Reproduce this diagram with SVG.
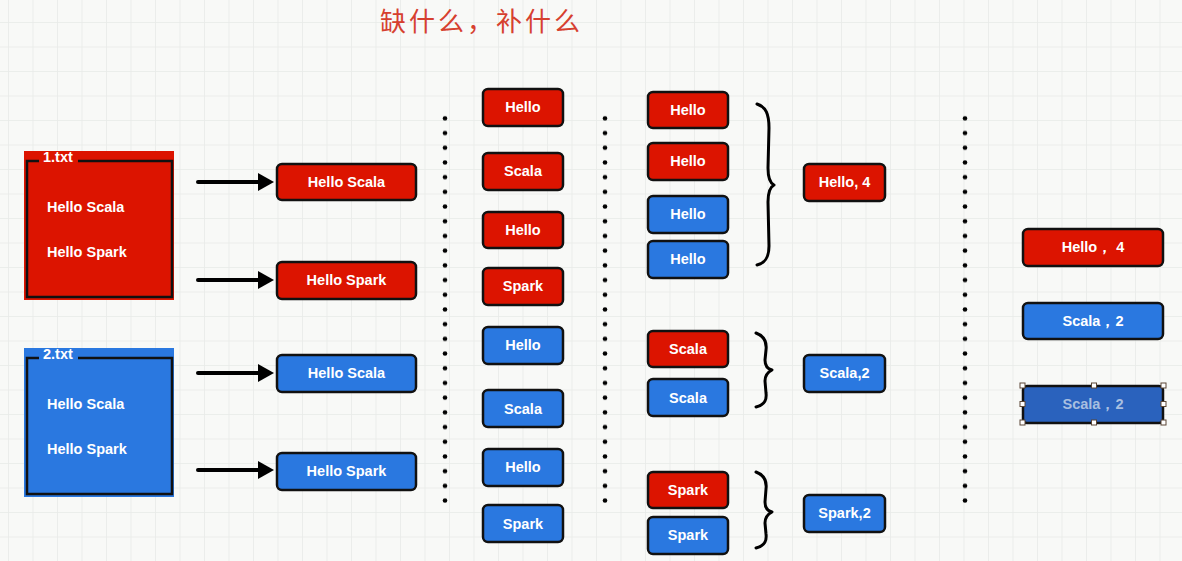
<svg xmlns="http://www.w3.org/2000/svg" width="1182" height="561" viewBox="0 0 1182 561">
<defs>
<pattern id="grid" patternUnits="userSpaceOnUse" x="8" y="22" width="24.5" height="24.5">
<path d="M0,0 H24.5 M0,0 V24.5" fill="none" stroke="#e8eae8" stroke-width="1.6"/>
</pattern>
<pattern id="dots" patternUnits="userSpaceOnUse" x="0" y="111" width="10" height="14.7">
<circle cx="5" cy="7.35" r="2.3" fill="#000"/>
</pattern>
</defs>
<style>
.r{fill:#dc1400;stroke:#111;stroke-width:2.5}
.b{fill:#2a78e0;stroke:#111;stroke-width:2.5}
.t{fill:#fff;font-family:"Liberation Sans",Arial,sans-serif;font-weight:bold;font-size:14.5px;text-anchor:middle;dominant-baseline:central}
.tl{fill:#fff;font-family:"Liberation Sans",Arial,sans-serif;font-weight:bold;font-size:14.5px;dominant-baseline:central}
.br{fill:none;stroke:#000;stroke-width:3;stroke-linecap:round;stroke-linejoin:round}
.ar{fill:none;stroke:#000;stroke-width:4;stroke-linecap:round}
.h{fill:#fff;stroke:#5a4636;stroke-width:1}
</style>
<rect width="1182" height="561" fill="#f8f9f7"/>
<rect width="1182" height="561" fill="url(#grid)"/>

<text x="380" y="31" font-family="'Noto Sans CJK SC',sans-serif" font-size="26" letter-spacing="3" fill="#d6402f">缺什么，补什么</text>

<g id="file1">
<rect x="24" y="151" width="150" height="149" fill="#dc1400"/>
<path d="M39,161 H27 V297 H172 V161 H78" fill="none" stroke="#111" stroke-width="2.5"/>
<text class="tl" x="43" y="157" font-size="13">1.txt</text>
<text class="tl" x="47" y="207">Hello Scala</text>
<text class="tl" x="47" y="252">Hello Spark</text>
</g>
<g id="file2">
<rect x="24" y="348" width="150" height="149" fill="#2a78e0"/>
<path d="M39,358 H27 V494 H172 V358 H78" fill="none" stroke="#111" stroke-width="2.5"/>
<text class="tl" x="43" y="354" font-size="13">2.txt</text>
<text class="tl" x="47" y="404">Hello Scala</text>
<text class="tl" x="47" y="449">Hello Spark</text>
</g>

<g id="connectors">
<line class="ar" x1="198" y1="182" x2="264" y2="182"/>
<path d="M258,173 L274,182 L258,191 Z" fill="#000"/>
<line class="ar" x1="198" y1="280" x2="264" y2="280"/>
<path d="M258,271 L274,280 L258,289 Z" fill="#000"/>
<line class="ar" x1="198" y1="373" x2="264" y2="373"/>
<path d="M258,364 L274,373 L258,382 Z" fill="#000"/>
<line class="ar" x1="198" y1="470" x2="264" y2="470"/>
<path d="M258,461 L274,470 L258,479 Z" fill="#000"/>
</g>

<g id="line1"><rect class="r" x="277" y="164" width="139" height="36" rx="5"/><text class="t" x="346.5" y="182">Hello Scala</text></g>
<g id="line2"><rect class="r" x="277" y="262" width="139" height="37" rx="5"/><text class="t" x="346.5" y="280">Hello Spark</text></g>
<g id="line3"><rect class="b" x="277" y="355" width="139" height="37" rx="5"/><text class="t" x="346.5" y="373">Hello Scala</text></g>
<g id="line4"><rect class="b" x="277" y="453" width="139" height="37" rx="5"/><text class="t" x="346.5" y="471">Hello Spark</text></g>

<g id="sep1"><rect x="440" y="111" width="10" height="396" fill="url(#dots)"/></g>
<g id="sep2"><rect x="599" y="111" width="10" height="396" fill="url(#dots)"/></g>
<g id="sep3"><rect x="960" y="111" width="10" height="396" fill="url(#dots)"/></g>

<g id="w1"><rect class="r" x="483" y="89" width="80" height="37" rx="5"/><text class="t" x="523" y="107">Hello</text></g>
<g id="w2"><rect class="r" x="483" y="153" width="80" height="37" rx="5"/><text class="t" x="523" y="171">Scala</text></g>
<g id="w3"><rect class="r" x="483" y="212" width="80" height="36" rx="5"/><text class="t" x="523" y="230">Hello</text></g>
<g id="w4"><rect class="r" x="483" y="268" width="80" height="37" rx="5"/><text class="t" x="523" y="286">Spark</text></g>
<g id="w5"><rect class="b" x="483" y="327" width="80" height="37" rx="5"/><text class="t" x="523" y="345">Hello</text></g>
<g id="w6"><rect class="b" x="483" y="390" width="80" height="37" rx="5"/><text class="t" x="523" y="409">Scala</text></g>
<g id="w7"><rect class="b" x="483" y="449" width="80" height="37" rx="5"/><text class="t" x="523" y="467">Hello</text></g>
<g id="w8"><rect class="b" x="483" y="505" width="80" height="37" rx="5"/><text class="t" x="523" y="524">Spark</text></g>

<g id="g1"><rect class="r" x="648" y="92" width="80" height="36" rx="5"/><text class="t" x="688" y="110">Hello</text></g>
<g id="g2"><rect class="r" x="648" y="143" width="80" height="37" rx="5"/><text class="t" x="688" y="161">Hello</text></g>
<g id="g3"><rect class="b" x="648" y="196" width="80" height="37" rx="5"/><text class="t" x="688" y="214">Hello</text></g>
<g id="g4"><rect class="b" x="648" y="241" width="80" height="37" rx="5"/><text class="t" x="688" y="259">Hello</text></g>
<g id="g5"><rect class="r" x="648" y="331" width="80" height="36" rx="5"/><text class="t" x="688" y="349">Scala</text></g>
<g id="g6"><rect class="b" x="648" y="379" width="80" height="37" rx="5"/><text class="t" x="688" y="398">Scala</text></g>
<g id="g7"><rect class="r" x="648" y="472" width="80" height="36" rx="5"/><text class="t" x="688" y="490">Spark</text></g>
<g id="g8"><rect class="b" x="648" y="517" width="80" height="37" rx="5"/><text class="t" x="688" y="535">Spark</text></g>

<g id="braces">
<path class="br" d="M757,104 C766,107 769,114 769,128 L768,168 C768,178 770,183 774,185 C770,187 768,192 768,202 L769,246 C769,258 765,263 757,265"/>
<path class="br" d="M756,333 C764,336 767,342 766,350 L765,360 C765,366 768,369 772,370 C768,372 765,375 765,381 L766,393 C767,401 764,405 756,407"/>
<path class="br" d="M756,472 C764,475 767,481 766,489 L765,502 C765,508 768,511 772,512 C768,514 765,517 765,523 L766,534 C767,542 764,546 756,548"/>
</g>

<g id="c1"><rect class="r" x="804" y="164" width="81" height="37" rx="5"/><text class="t" x="844.5" y="182">Hello, 4</text></g>
<g id="c2"><rect class="b" x="804" y="355" width="81" height="37" rx="5"/><text class="t" x="844.5" y="373">Scala,2</text></g>
<g id="c3"><rect class="b" x="804" y="495" width="81" height="37" rx="5"/><text class="t" x="844.5" y="513">Spark,2</text></g>

<g id="r1"><rect class="r" x="1023" y="229" width="140" height="37" rx="5"/><text class="t" x="1093" y="247">Hello，  4</text></g>
<g id="r2"><rect class="b" x="1023" y="303" width="140" height="36" rx="5"/><text class="t" x="1093" y="321">Scala，2</text></g>
<g id="r3">
<rect x="1023" y="386" width="140" height="37" rx="4" fill="#2a62bd" stroke="#111" stroke-width="2.5"/>
<text class="t" x="1093" y="404" style="fill:#a8bfe0">Scala，2</text>
<rect class="h" x="1020" y="383" width="5" height="5"/><rect class="h" x="1091.5" y="383" width="5" height="5"/><rect class="h" x="1161" y="383" width="5" height="5"/>
<rect class="h" x="1020" y="401.5" width="5" height="5"/><rect class="h" x="1161" y="401.5" width="5" height="5"/>
<rect class="h" x="1020" y="420" width="5" height="5"/><rect class="h" x="1091.5" y="420" width="5" height="5"/><rect class="h" x="1161" y="420" width="5" height="5"/>
</g>
</svg>
